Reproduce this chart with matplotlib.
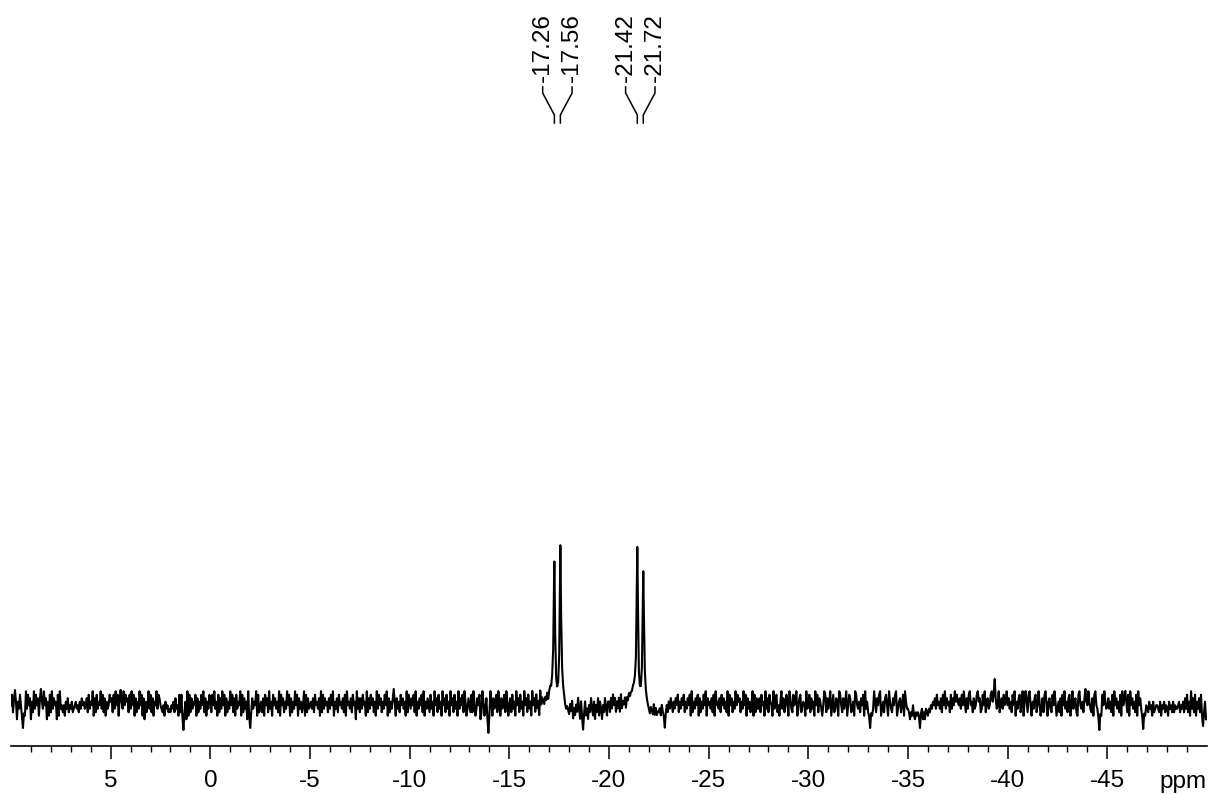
import numpy as np
import matplotlib
matplotlib.use("Agg")
import matplotlib.pyplot as plt
from matplotlib import transforms
from matplotlib.ticker import FixedLocator, FormatStrFormatter

plt.rcParams['font.family'] = ['Liberation Sans', 'DejaVu Sans']
plt.rcParams['axes.unicode_minus'] = False

# Signals (ppm) with their apparent heights
peak_ppm = [-17.26, -17.56, -21.42, -21.72]
peak_height = [132, 150, 147, 123]
peak_hwhm = 0.04

# Baseline trace sampled every 0.05 ppm from 10 ppm downward (one digit per point)
ppm_start = 10.0
ppm_step = -0.05
baseline_digits = "".join("""
5837291648 5736294857 1639485726 3849571628 3947561829
4535264735 4634564536 4756457384 6592738465 9483726458
6738495827 3649586738 4958273649 5827163594 8372659487
5435264534 3546374528 3847561928 3746582736 4859372648
7385946283 7495827364 9583728465 9283746192 8374659283
4637285739 4628574639 2857364958 2736495827 4635928374
5647385647 2938475637 4859264738 5647382956 4738561947
3748562937 4857362948 5736485927 3648592746 3857462938
6475839264 7583926475 3846295738 4629573846 2957384629
4758396247 5383962475 8139624758 3962745839 6274583962
5738462957 3846295738 4629573846 2957657686 8989986555
5788764343 2536142537 4162536241 5374261537 2641537426
637485736473846574 7687889 99887 5556 787654 3243252423
3425364253 6475364758 3647583647 5829364758 2736485927
5647382956 4738574639 2857364958 6736495827 4635928374
4738562947 3865294783 5269473586 2974385692 4783565294
5837462958 3764259837 4692583476 2985374692 5873462985
4637582946 3785249637 5892463785 2964375892 4673582964
4313252132 3252413143 2435465748 5647385947 5638475968
6574859637 4895637458 9673485936 7458963784 5936748569
5746385926 4783592674 3895264783 5962473895 2674385962
4637285946 3782594673 2895463782 5964372895 4673285964
5746382957 4638295746 3829574638 2957463625 4364526345
5436254635 4264536354 4563546374 8362947382 6473829461
""".split())

# Larger excursions of the baseline (ppm, offset)
spike_ppm = [9.8, 9.4, 8.5, 4.5, 1.33, -2.0, -9.2, -13.95, -18.7, -22.8,
             -33.1, -35.6, -39.35, -40.9, -43.9, -44.6, -45.9, -46.8, -49.8]
spike_offset = [17, -21, 18, 17, -23, -21, 18, -26, -23, -21,
                -21, -21, 28, 16, 18, -23, 16, -22, -19]

noise = (np.array([int(c) for c in baseline_digits], dtype=float) - 4.5) * 3.5
grid = ppm_start + ppm_step * np.arange(len(noise))
for p, o in zip(spike_ppm, spike_offset):
    i = int(np.argmin(np.abs(grid - p)))
    noise[i] = o
    if i > 0:
        noise[i - 1] = 0.45 * o
    if i + 1 < len(noise):
        noise[i + 1] = 0.3 * o

x = np.sort(np.concatenate([grid, peak_ppm]))[::-1]
y = np.interp(x, grid[::-1], noise[::-1])
for p, h in zip(peak_ppm, peak_height):
    y = y + h / (1.0 + ((x - p) / peak_hwhm) ** 2)

W, H = 1212, 794
fig = plt.figure(figsize=(W / 100, H / 100), dpi=100)
ax = fig.add_axes([11 / W, 48 / H, 1196 / W, 616 / H])
ax.plot(x, y, color='black', lw=1.5)
ax.set_xlim(10, -50)
ax.set_ylim(-39, 577)

for s in ('left', 'right', 'top'):
    ax.spines[s].set_visible(False)
ax.spines['bottom'].set_linewidth(1.2)
ax.set_yticks([])
ax.xaxis.set_major_locator(FixedLocator(np.arange(5, -50, -5)))
ax.xaxis.set_minor_locator(FixedLocator(np.arange(9, -50, -1)))
ax.xaxis.set_major_formatter(FormatStrFormatter('%d'))
ax.tick_params(axis='x', which='major', length=9.5, width=1.1, pad=8, labelsize=17.5)
ax.tick_params(axis='x', which='minor', length=4.5, width=1.0)

fig.text(1183 / W, 1 - 788 / H, 'ppm', ha='center', va='baseline', fontsize=17.5)

# Peak labels with bracket connectors
trans = transforms.blended_transform_factory(ax.transData, fig.transFigure)
px_per_ppm = 1196 / 60.0
spread = 14.7 / px_per_ppm


def fy(ypx):
    return 1 - ypx / H


for i in range(0, len(peak_ppm), 2):
    pair = peak_ppm[i:i + 2]
    centre = sum(pair) / 2
    for k, p in enumerate(pair):
        lx = centre + spread if k == 0 else centre - spread
        ax.text(lx, fy(82), f"{p:.2f}", transform=trans, rotation=90,
                ha='center', va='bottom', fontsize=17.5)
        ax.plot([lx, lx, p, p], [fy(87), fy(93), fy(115), fy(123)],
                transform=trans, color='black', lw=1.1, clip_on=False)

fig.savefig('out.png', dpi=100)
